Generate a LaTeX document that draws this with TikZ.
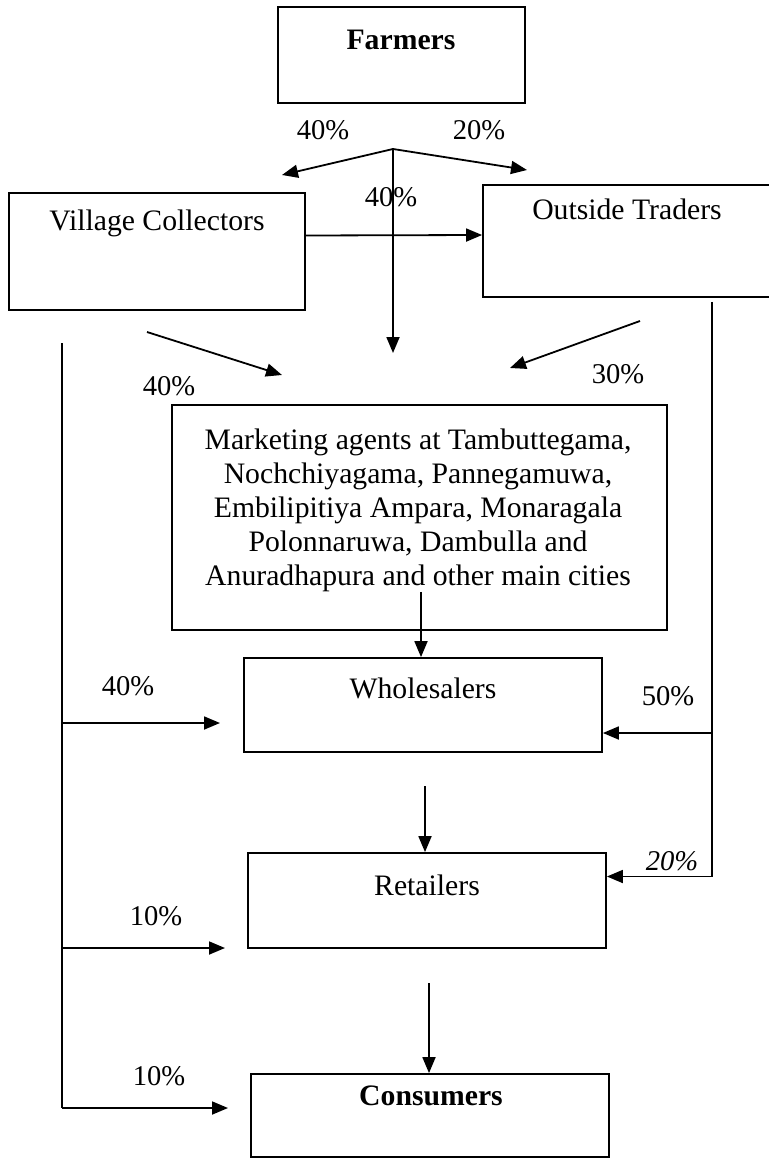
\documentclass[tikz,border=0pt]{standalone}
\usepackage{fontspec}
\setmainfont{Liberation Serif}
\usetikzlibrary{arrows.meta}

\tikzset{
  box/.style={draw, line width=0.9pt, inner sep=0pt},
  lbl/.style={font=\fontsize{14.85}{17}\selectfont, inner sep=0pt, anchor=base},
  pct/.style={font=\fontsize{14.3}{17}\selectfont, inner sep=0pt, anchor=base},
  arr/.style={-{Triangle[length=8pt,width=6.5pt]}, line width=0.9pt},
  bus/.style={line width=0.8pt}
}

\begin{document}
\begin{tikzpicture}[x=0.5pt, y=-0.5pt]
\clip (0,0) rectangle (769,1160);

% Boxes
\node[box, minimum width=123.5pt, minimum height=48pt] (farmers) at (401.5,55) {};
\node[box, minimum width=148pt, minimum height=58.5pt] (collectors) at (157,251.5) {};
\node[box, minimum width=146pt, minimum height=56pt] (traders) at (629,241) {};
\node[box, minimum width=247.5pt, minimum height=112.5pt] (agents) at (419.5,517.5) {};
\node[box, minimum width=179pt, minimum height=47pt] (wholesalers) at (423,705) {};
\node[box, minimum width=179pt, minimum height=47.5pt] (retailers) at (427,900.5) {};
\node[box, minimum width=179pt, minimum height=41.5pt] (consumers) at (430,1115.5) {};

% Box texts
\node[lbl] (farmersText) at (401,50) {\textbf{Farmers}};
\node[lbl] (collectorsText) at (157,231) {Village Collectors};
\node[lbl] (tradersText) at (627,220) {Outside Traders};
\node[lbl, anchor=center, align=center] (agentsText) at (418,510)
  {Marketing agents at Tambuttegama,\\ Nochchiyagama, Pannegamuwa,\\
   Embilipitiya Ampara, Monaragala\\ Polonnaruwa, Dambulla and\\
   Anuradhapura and other main cities};
\node[lbl] (wholesalersText) at (423,698) {Wholesalers};
\node[lbl] (retailersText) at (427,895) {Retailers};
\node[lbl] (consumersText) at (431,1105) {\textbf{Consumers}};

% Free ends
\coordinate (fork) at (393,149);
\coordinate (forkL) at (282,175);
\coordinate (forkR) at (527,170);
\coordinate (forkD) at (393,353);
\coordinate (vcDown) at (147,332);
\coordinate (agInL) at (282,375);
\coordinate (otDown) at (640,321);
\coordinate (agInR) at (510,368);
\coordinate (whDown) at (425,786);
\coordinate (rtDown) at (429,983);

% Left bus
\coordinate (busL1) at (62,343);
\coordinate (busL2) at (62,723);
\coordinate (busL3) at (62,948);
\coordinate (busL4) at (62,1108);
\coordinate (endW) at (220,723);
\coordinate (endR) at (225,948);
\coordinate (endC) at (228,1108);

% Right bus
\coordinate (busR1) at (712,302);
\coordinate (busR2) at (712,733);

% Arrows from farmers
\draw[arr] (fork) -- (forkL);
\draw[arr] (fork) -- (forkR);
\draw[arr] (fork) -- (forkD);
\draw[arr] ([yshift=8pt]collectors.east) -- ([yshift=3pt]traders.west);

% Into marketing agents
\draw[arr] (vcDown) -- (agInL);
\draw[arr] (otDown) -- (agInR);
\draw[arr] ([xshift=1.5pt]agentsText.south) -- ([xshift=1.5pt]agentsText.south |- wholesalers.north);
\draw[arr] (whDown) -- (whDown |- retailers.north);
\draw[arr] (rtDown) -- (rtDown |- consumers.north);

% Left bus
\draw[bus] (busL1) -- (busL4);
\draw[arr] (busL4) -- (endC);
\draw[arr] (busL2) -- (endW);
\draw[arr] (busL3) -- (endR);

% Right bus
\draw[arr] (busR1) |- ([yshift=12pt]retailers.east);
\draw[arr] (busR2) -- (wholesalers.east |- busR2);

% Percent labels
\node[pct] (pVC) at (323,140) {40\%};
\node[pct] (pOT) at (479,140) {20\%};
\node[pct] (pAG) at (391,207) {40\%};
\node[pct] (pVCag) at (169,395) {40\%};
\node[pct] (pOTag) at (618,383) {30\%};
\node[pct] (pVCwh) at (128,695) {40\%};
\node[pct] (pOTwh) at (668,705) {50\%};
\node[pct, font=\fontsize{14.3}{17}\itshape] (pOTrt) at (672,870) {20\%};
\node[pct] (pVCrt) at (156,925) {10\%};
\node[pct] (pVCcs) at (159,1085) {10\%};

\end{tikzpicture}
\end{document}
